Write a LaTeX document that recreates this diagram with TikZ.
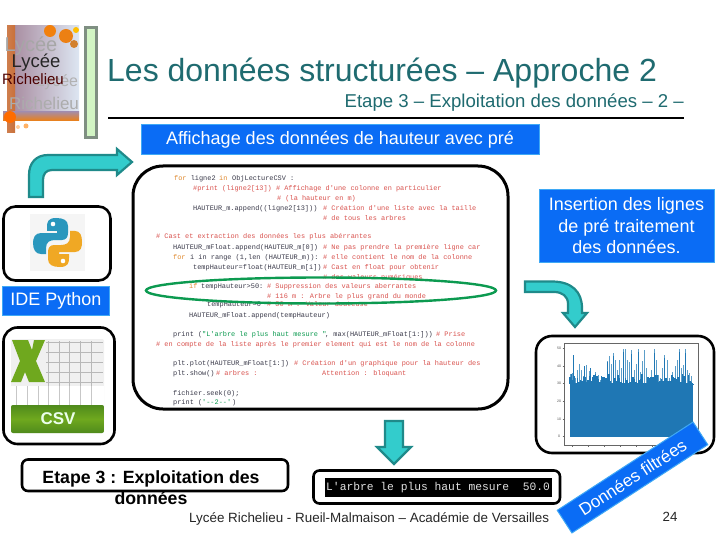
\documentclass[tikz,border=0pt]{standalone}
\usepackage{fontspec}
\setmainfont{Liberation Sans}
\newfontfamily\codefont{Liberation Mono}
\usetikzlibrary{shapes.geometric}
\definecolor{tealtxt}{HTML}{1F6B70}
\definecolor{bluebox}{HTML}{0A6CF5}
\definecolor{blueedge}{HTML}{3FA9F5}
\definecolor{arrfill}{HTML}{33CCCC}
\definecolor{arredge}{HTML}{1F8A8A}
\definecolor{cred}{HTML}{D9534F}
\definecolor{cdark}{HTML}{3A3A4A}
\definecolor{corange}{HTML}{E08A30}
\definecolor{cgreen}{HTML}{0C9A50}
\definecolor{plotblue}{HTML}{1F77B4}
\definecolor{plotlight}{HTML}{5C9EC9}
\definecolor{xgreen}{HTML}{6FA81E}
\definecolor{banddark}{HTML}{4F8A1C}
\definecolor{pyblue}{HTML}{2A97BD}
\definecolor{pyyellow}{HTML}{F0A824}
\definecolor{baredge}{HTML}{7F8F82}
\definecolor{barfill}{HTML}{D2F5C4}
\definecolor{logoleft}{HTML}{A88CA0}
\definecolor{logoright}{HTML}{DDE6F2}
\definecolor{logobar}{HTML}{C9703A}
\tikzset{
  framebox/.style={draw=black,line width=2.6pt,rounded corners=12pt,fill=white},
  bluelabel/.style={draw=blueedge,line width=1pt,fill=bluebox,text=white,font=\fontsize{18}{21.5}\selectfont,align=center,inner sep=0pt},
  bentarrow/.style={draw=arredge,line width=2.2pt,fill=arrfill,line join=miter},
  codeline/.style={anchor=base west,inner sep=0pt,font=\codefont\fontsize{6.9}{7}\selectfont},
  cmt/.style={codeline,text=cred},
  cod/.style={codeline,text=cdark},
  logotext/.style={inner sep=0pt},
  ticklbl/.style={inner sep=0pt,font=\fontsize{3.5}{4}\selectfont,text=black!70}
}
\begin{document}
\begin{tikzpicture}[x=1pt,y=-1pt]
\useasboundingbox (0,0) rectangle (720,540);
\fill[white] (0,0) rectangle (720,540);

% --- logo ---
\begin{scope}
\clip (3,26) rectangle (79,133);
\shade[left color=logoleft,right color=logoright] (12,26) rectangle (79,116);
\shade[left color=logobar!90,right color=logobar] (7,26) rectangle (15,133);
\shade[top color=logoleft,bottom color=orange!75!brown] (3,112) rectangle (79,121);
\fill[orange!85!red] (10,117) circle (6);
\fill[orange!60] (26,126) circle (2.5);
\fill[orange!40] (18,127) circle (2);
\fill[orange!80!brown] (50,31) circle (6);
\fill[orange!70!brown] (66,36) circle (7);
\fill[brown!70!orange] (74,44) circle (4);
\fill[orange!50!yellow] (76,30) circle (3);
\node[logotext,text=gray!70,font=\fontsize{20}{20}\selectfont] (logoA) at (31,46) {Lycée};
\node[logotext,text=gray!60,font=\fontsize{16}{16}\selectfont] (logoB) at (57,82) {Lycée};
\node[logotext,text=gray!65,font=\fontsize{17}{17}\selectfont] (logoC) at (44,103) {Richelieu};
\node[logotext,text=black!85,font=\fontsize{18.5}{18}\selectfont] (logoD) at (36,63) {Lycée};
\node[logotext,text=red!30!black,font=\fontsize{15}{15}\selectfont] (logoE) at (33,79) {Richelieu};
\end{scope}

\draw[draw=baredge,line width=3pt,fill=barfill] (85.5,27.5) rectangle (96.5,138);

% --- titles ---
\node[anchor=base west,inner sep=0pt,text=tealtxt,font=\fontsize{32}{34}\selectfont] (title) at (107,82) {Les données structurées – Approche 2};
\node[anchor=base east,inner sep=0pt,text=tealtxt,font=\fontsize{18.6}{20}\selectfont] (subtitle) at (684,108) {Etape 3 – Exploitation des données – 2 –};
\coordinate (ruleL) at (108,118);
\coordinate (ruleR) at (684,118);
\draw[black,line width=1.2pt] (ruleL) -- (ruleR);

\node[bluelabel,minimum width=398pt,minimum height=30pt] (head) at (340,140) {Affichage des données de hauteur avec pré};

% --- first arrow ---
\draw[bentarrow] (29,197) -- (29,175) .. controls (29,163) and (36,155) .. (48,155) -- (117,155) -- (117,149) -- (132,162) -- (117,175) -- (117,170) -- (52,170) .. controls (46,170) and (43,174) .. (43,180) -- (43,197) -- cycle;

% --- code frame ---
\draw[framebox,line width=3pt,rounded corners=30pt] (133,166) rectangle (508,409);
\node[cmt,text=corange] (c1a) at (174,181) {for};
\node[cod] (c1b) at (190.6,181) {ligne2};
\node[cmt,text=corange] (c1c) at (219,181) {in};
\node[cod] (c1d) at (232,181) {ObjLectureCSV :};
\node[cmt] (c2) at (193,191) {\#print (ligne2[13]) \# Affichage d'une colonne en particulier};
\node[cmt] (c3) at (277,201) {\# (la hauteur en m)};
\node[cod] (c4a) at (193,211) {HAUTEUR\_m.append((ligne2[13]))};
\node[cmt] (c4b) at (323,211) {\# Création d'une liste avec la taille};
\node[cmt] (c5) at (323,221) {\# de tous les arbres};
\node[cmt] (c6) at (156,239) {\# Cast et extraction des données les plus abérrantes};
\node[cod] (c7a) at (173,249) {HAUTEUR\_mFloat.append(HAUTEUR\_m[0])};
\node[cmt] (c7b) at (323,249) {\# Ne pas prendre la première ligne car};
\node[cmt,text=corange] (c8a) at (173,259) {for};
\node[cod] (c8b) at (190,259) {i in range (1,len (HAUTEUR\_m)):};
\node[cmt] (c8c) at (323,259) {\# elle contient le nom de la colonne};
\node[cod] (c9a) at (193,269) {tempHauteur=float(HAUTEUR\_m[i])};
\node[cmt] (c9b) at (323,269) {\# Cast en float pour obtenir};
\node[cmt] (c10) at (323,279) {\# des valeurs numériques};
\node[cmt,text=corange] (c11a) at (189,288) {if};
\node[cod] (c11b) at (201,288) {tempHauteur>50:};
\node[cmt] (c11c) at (267,288) {\# Suppression des valeurs aberrantes};
\node[cmt] (c12) at (267,298) {\# 116 m : Arbre le plus grand du monde};
\node[cod] (c13a) at (207,306) {tempHauteur=0};
\node[cmt] (c13b) at (267,306) {\# 50 m : Valeur douteuse};
\node[cod] (c14) at (189,317) {HAUTEUR\_mFloat.append(tempHauteur)};
\node[cod] (c15a) at (173,336) {print (};
\node[cmt,text=cgreen] (c15b) at (202,336) {"L'arbre le plus haut mesure "};
\node[cod] (c15c) at (325,336) {, max(HAUTEUR\_mFloat[1:]))};
\node[cmt] (c15d) at (436,336) {\# Prise};
\node[cmt] (c16) at (156,346) {\# en compte de la liste après le premier element qui est le nom de la colonne};
\node[cod] (c17a) at (173,365) {plt.plot(HAUTEUR\_mFloat[1:])};
\node[cmt] (c17b) at (294,365) {\# Création d'un graphique pour la hauteur des};
\node[cod] (c18a) at (173,375) {plt.show()};
\node[cmt] (c18b) at (216,375) {\# arbres :};
\node[cmt] (c18c) at (322,375) {Attention : bloquant};
\node[cod] (c19) at (173,395) {fichier.seek(0);};
\node[cod] (c20a) at (173,404) {print (};
\node[cmt,text=cgreen] (c20b) at (202,404) {'--2--'};
\node[cod] (c20c) at (232,404) {)};
\node[draw=cgreen,line width=2.4pt,ellipse,minimum width=350pt,minimum height=26pt,inner sep=0pt] (oval) at (321,290.5) {};

% --- python ---
\draw[framebox] (3.5,206.5) rectangle (110.5,280.5);
\fill[black!4] (30,214) rectangle (85,271);
\fill[pyblue] (56,218) .. controls (48,218) and (47,222) .. (47,227) -- (47,231) -- (57,231) -- (57,233) -- (41,233) .. controls (35,233) and (33,238) .. (33,243) .. controls (33,250) and (36,254) .. (41,254) -- (46,254) -- (46,248) .. controls (46,242) and (50,240) .. (55,240) -- (62,240) .. controls (66,240) and (68,237) .. (68,233) -- (68,226) .. controls (68,220) and (63,218) .. (56,218) -- cycle;
\fill[pyyellow] (60,267) .. controls (68,267) and (69,263) .. (69,258) -- (69,254) -- (59,254) -- (59,252) -- (75,252) .. controls (81,252) and (82,247) .. (82,242) .. controls (82,235) and (80,231) .. (75,231) -- (70,231) -- (70,237) .. controls (70,243) and (66,245) .. (61,245) -- (54,245) .. controls (50,245) and (48,248) .. (48,252) -- (48,259) .. controls (48,265) and (53,267) .. (60,267) -- cycle;
\fill[white] (53,224) circle (2.3);
\fill[white] (63,261) circle (2.3);

\node[bluelabel,minimum width=107pt,minimum height=29pt] (ide) at (56,301) {IDE Python};

% --- csv icon ---
\draw[framebox,rounded corners=14pt] (3.5,327.5) rectangle (114.5,444);
\fill[black!6,rounded corners=2pt] (11,339) rectangle (104,433);
\foreach \gx in {48,59,69,80,91} \draw[black!28,line width=.6pt] (\gx,341) -- (\gx,386);
\foreach \gy in {342,352,362,372,382} \draw[black!28,line width=.6pt] (46,\gy) -- (103,\gy);
\fill[white] (11,386) rectangle (104,405);
\foreach \gx in {16,27,38,48,59,69,80,91} \draw[black!22,line width=.6pt] (\gx,386) -- (\gx,405);
\shade[top color=banddark,bottom color=banddark,middle color=xgreen,rounded corners=2pt] (11,405) rectangle (104,433);
\fill[xgreen] (12,340) -- (28,340) -- (32,350) -- (34,340) -- (45,340) -- (36,361) -- (45,382) -- (29,382) -- (25,372) -- (21,382) -- (11,382) -- (20,361) -- cycle;
\node[inner sep=0pt,text=white!92!green,font=\bfseries\fontsize{17}{18}\selectfont] (csv) at (58,419) {CSV};

% --- insertion box ---
\node[bluelabel,minimum width=175pt,minimum height=72pt] (ins) at (626.5,226) {Insertion des lignes\\de pré traitement\\des données.};

% --- second arrow ---
\draw[bentarrow] (525,281.5) -- (552,281.5) .. controls (572,281.5) and (582,292) .. (582,308) -- (582,313) -- (587,313) -- (575,327) -- (563,313) -- (568,313) -- (568,304) .. controls (568,296) and (562,292) .. (554,292) -- (525,292) -- cycle;

% --- plot ---
\draw[framebox,rounded corners=16pt] (536,336) rectangle (714,453);
\draw[black!60,line width=.5pt] (564,343) rectangle (698,445);
\foreach \ty/\tl in {348/50,366/40,383/30,401/20,419/10,436/0}{
  \node[ticklbl] (tick\tl) at (559,\ty) {\tl};
  \draw[black!60,line width=.3pt] (562.5,\ty) -- (564,\ty);
}
\foreach \tx in {572,588,604,620,636,652,668,684}
  \draw[black!60,line width=.3pt] (\tx,445) -- (\tx,446.5);
\foreach \sx/\st in {570/374,572/373,573/355,575/378,577/370,579/364,581/370,583/376,586/365,589/371,592/378,595/372,598/375,600/380,603/379,605/378,607/361,609/356,611/364,613/353,615/360,617/370,619/360,621/368,623/349,625/349,627/360,629/362,631/350,634/370,636/364,638/349,640/372,642/361,644/350,646/368,649/378,651/370,654/349,656/360,658/375,660/378,662/368,664/355,667/360,669/378,672/372,675/366,677/360,679/349,681/368,683/365,685/349,687/370,689/373,691/376}
  \draw[plotlight,line width=1pt] (\sx,384) -- (\sx,\st);
\pgfmathsetseed{11}
\foreach \sx in {570,571.5,...,693}{
  \pgfmathsetmacro\sh{384-11*rnd}
  \draw[plotblue,line width=1.2pt] (\sx,384) -- (\sx,\sh);
}
\foreach \sx/\st in {573/355,584/366,590/368,607/362,613/356,623/352,631/354,638/352,654/353,664/358,679/352,685/353}
  \draw[plotblue,line width=.9pt] (\sx,384) -- (\sx,\st);
\fill[plotblue] (570,383) rectangle (693,437);

% --- banner ---
\node[draw=blueedge,line width=1pt,fill=bluebox,text=white,rotate=33,minimum width=162pt,minimum height=27pt,inner sep=0pt,font=\fontsize{17.2}{18}\selectfont] (banner) at (632.5,477.5) {Données filtrées};

% --- down arrow ---
\draw[bentarrow] (385,421) -- (403,421) -- (403,447) -- (411,447) -- (394,464) -- (377,447) -- (385,447) -- cycle;

% --- console ---
\draw[framebox,rounded corners=6pt] (313.5,470.5) rectangle (560,503.5);
\node[fill=black,minimum width=227pt,minimum height=19pt,inner sep=0pt] (console) at (438.5,487.5) {};
\node[anchor=west,inner sep=0pt,text=black!12,font=\codefont\fontsize{11.3}{12}\selectfont] (consoletxt) at (326,487.5) {L'arbre le plus haut mesure\ \ 50.0};

% --- etape box ---
\draw[framebox,rounded corners=6pt] (22,459.5) rectangle (288,491);
\node[align=center,inner sep=0pt,text=black,font=\bfseries\fontsize{17.7}{21}\selectfont] (etape) at (151,487.5) {Etape 3 : Exploitation des\\données};

% --- footer ---
\node[anchor=base west,inner sep=0pt,text=black!85,font=\fontsize{13.4}{15}\selectfont] (foot) at (189,522) {Lycée Richelieu - Rueil-Malmaison – Académie de Versailles};
\node[inner sep=0pt,text=black!85,font=\fontsize{13.3}{15}\selectfont] (page) at (670,517) {24};
\end{tikzpicture}
\end{document}
